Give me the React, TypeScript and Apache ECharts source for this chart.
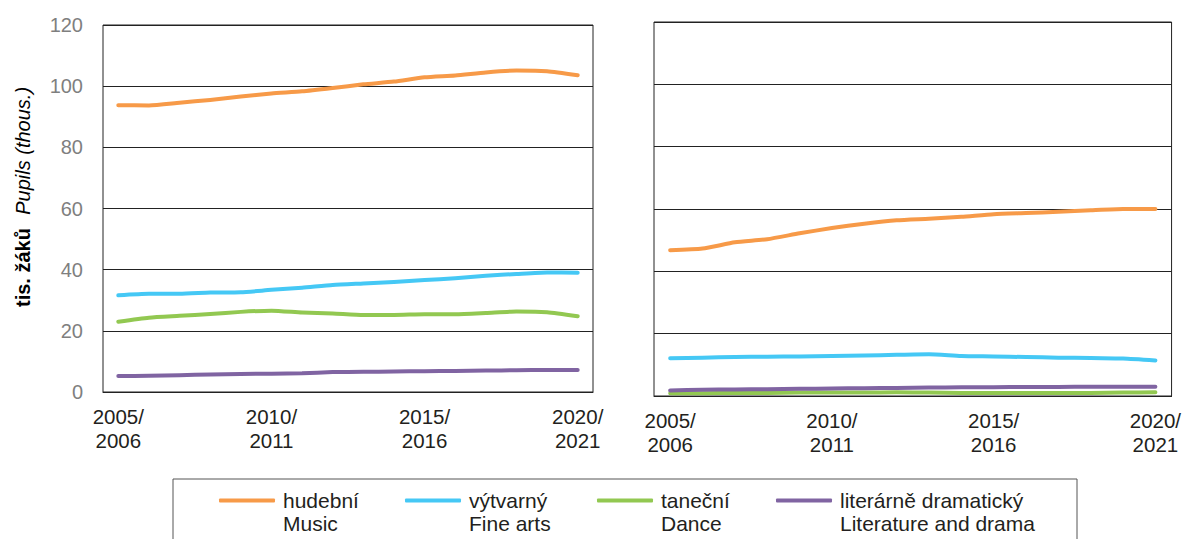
import React, { useEffect, useRef } from "react";
import * as echarts from "echarts";

const categories = [
  "2005/2006", "2006/2007", "2007/2008", "2008/2009", "2009/2010", "2010/2011",
  "2011/2012", "2012/2013", "2013/2014", "2014/2015", "2015/2016", "2016/2017",
  "2017/2018", "2018/2019", "2019/2020", "2020/2021",
];

const seriesNames = ["hudební", "výtvarný", "taneční", "literárně dramatický"];
const seriesNamesEn = ["Music", "Fine arts", "Dance", "Literature and drama"];
const seriesColors = ["#F79A48", "#45C8F5", "#92C851", "#8064A2"];

const yTicks = { min: 0, max: 120, interval: 20 };

// left panel
const leftMusic = [93.8, 93.7, 94.6, 95.5, 96.6, 97.6, 98.3, 99.4, 100.6, 101.5, 102.9, 103.5, 104.5, 105.1, 104.9, 103.6];
const leftFineArts = [31.6, 32.1, 32.1, 32.5, 32.6, 33.4, 34.1, 35.0, 35.5, 36.0, 36.6, 37.2, 38.0, 38.6, 39.1, 39.0];
const leftDance = [23.0, 24.3, 24.9, 25.5, 26.2, 26.6, 26.0, 25.7, 25.2, 25.2, 25.4, 25.4, 25.8, 26.3, 26.1, 24.8];
const leftLiterature = [5.2, 5.3, 5.5, 5.7, 5.9, 6.0, 6.1, 6.5, 6.6, 6.7, 6.8, 6.9, 7.0, 7.1, 7.2, 7.2];

// right panel
const rightMusic = [46.8, 47.3, 49.3, 50.3, 52.2, 53.9, 55.3, 56.4, 56.9, 57.5, 58.3, 58.7, 59.1, 59.6, 60.0, 60.0];
const rightFineArts = [12.1, 12.3, 12.5, 12.6, 12.7, 12.8, 13.0, 13.2, 13.4, 12.8, 12.7, 12.5, 12.3, 12.2, 12.0, 11.4];
const rightDance = [0.9, 0.9, 1.0, 1.0, 1.1, 1.1, 1.1, 1.2, 1.1, 1.0, 1.0, 1.0, 1.0, 1.0, 1.1, 1.2];
const rightLiterature = [1.8, 2.0, 2.1, 2.2, 2.3, 2.4, 2.5, 2.6, 2.7, 2.8, 2.8, 2.9, 2.9, 3.0, 3.0, 3.0];

const FONT = "'Liberation Sans', Arial, Helvetica, sans-serif";

export default function App() {
  const ref = useRef<HTMLDivElement>(null);

  useEffect(() => {
    const chart = echarts.init(ref.current!, null, { renderer: "svg" });

    const leftData = [leftMusic, leftFineArts, leftDance, leftLiterature];
    const rightData = [rightMusic, rightFineArts, rightDance, rightLiterature];

    const makeX = (gridIndex: number) => ({
      type: "category",
      gridIndex,
      data: categories,
      boundaryGap: true,
      axisLine: { show: true, lineStyle: { color: "#222", width: 1 } },
      axisTick: { show: false },
      axisLabel: {
        interval: 4,
        formatter: (v: string) => v.replace("/", "/\n"),
        color: "#231f20",
        fontSize: 20.5,
        lineHeight: 24,
        margin: 12,
        fontFamily: FONT,
      },
    });

    const makeY = (gridIndex: number, showLabels: boolean) => ({
      type: "value",
      gridIndex,
      min: yTicks.min,
      max: yTicks.max,
      interval: yTicks.interval,
      axisLine: { show: false },
      axisTick: { show: false },
      splitLine: { show: true, lineStyle: { color: "#222", width: 1 } },
      axisLabel: {
        show: showLabels,
        color: "#7f7f7f",
        fontSize: 20,
        margin: 20,
        fontFamily: FONT,
      },
    });

    const series: any[] = [];
    [leftData, rightData].forEach((panel, pi) => {
      panel.forEach((data, si) => {
        series.push({
          type: "line",
          name: seriesNames[si],
          xAxisIndex: pi,
          yAxisIndex: pi,
          data,
          smooth: 0.2,
          symbol: "none",
          showSymbol: false,
          color: seriesColors[si],
          lineStyle: { width: 4, color: seriesColors[si], cap: "round", join: "round" },
        });
      });
    });

    const legendLefts = [219, 405, 597, 776];
    const legends = seriesNames.map((name, i) => ({
      data: [name],
      left: legendLefts[i],
      top: 466,
      padding: 0,
      icon: "roundRect",
      itemWidth: 56,
      itemHeight: 4,
      selectedMode: false,
      formatter: (n: string) => " \n" + n + "\n" + seriesNamesEn[seriesNames.indexOf(n)],
      textStyle: {
        fontSize: 21,
        color: "#231f20",
        lineHeight: 23,
        padding: [0, 0, 0, 3],
        fontFamily: FONT,
      },
    }));

    chart.setOption({
      animation: false,
      backgroundColor: "#ffffff",
      textStyle: { fontFamily: FONT },
      grid: [
        { left: 103, top: 25, width: 490, height: 367, show: true, borderColor: "#222", borderWidth: 1, backgroundColor: "transparent" },
        { left: 654, top: 22, width: 519, height: 374, show: true, borderColor: "#222", borderWidth: 1, backgroundColor: "transparent" },
      ],
      xAxis: [makeX(0), makeX(1)],
      yAxis: [makeY(0, true), makeY(1, false)],
      legend: legends,
      series,
      graphic: [
        {
          type: "rect",
          shape: { x: 173, y: 479, width: 904, height: 90 },
          style: { fill: "none", stroke: "#555", lineWidth: 1 },
          silent: true,
        },
        {
          type: "text",
          x: 23,
          y: 197,
          rotation: Math.PI / 2,
          style: {
            text: "{b|tis. žáků}    {i|Pupils (thous.)}",
            align: "center",
            verticalAlign: "middle",
            rich: {
              b: { fontWeight: "bold", fontSize: 20, fill: "#000", fontFamily: FONT },
              i: { fontStyle: "italic", fontSize: 20, fill: "#000", fontFamily: FONT },
            },
          },
        },
      ],
    });

    return () => chart.dispose();
  }, []);

  return (
    <div
      ref={ref}
      style={{ position: "absolute", left: 0, top: 0, width: 1184, height: 539 }}
    />
  );
}
